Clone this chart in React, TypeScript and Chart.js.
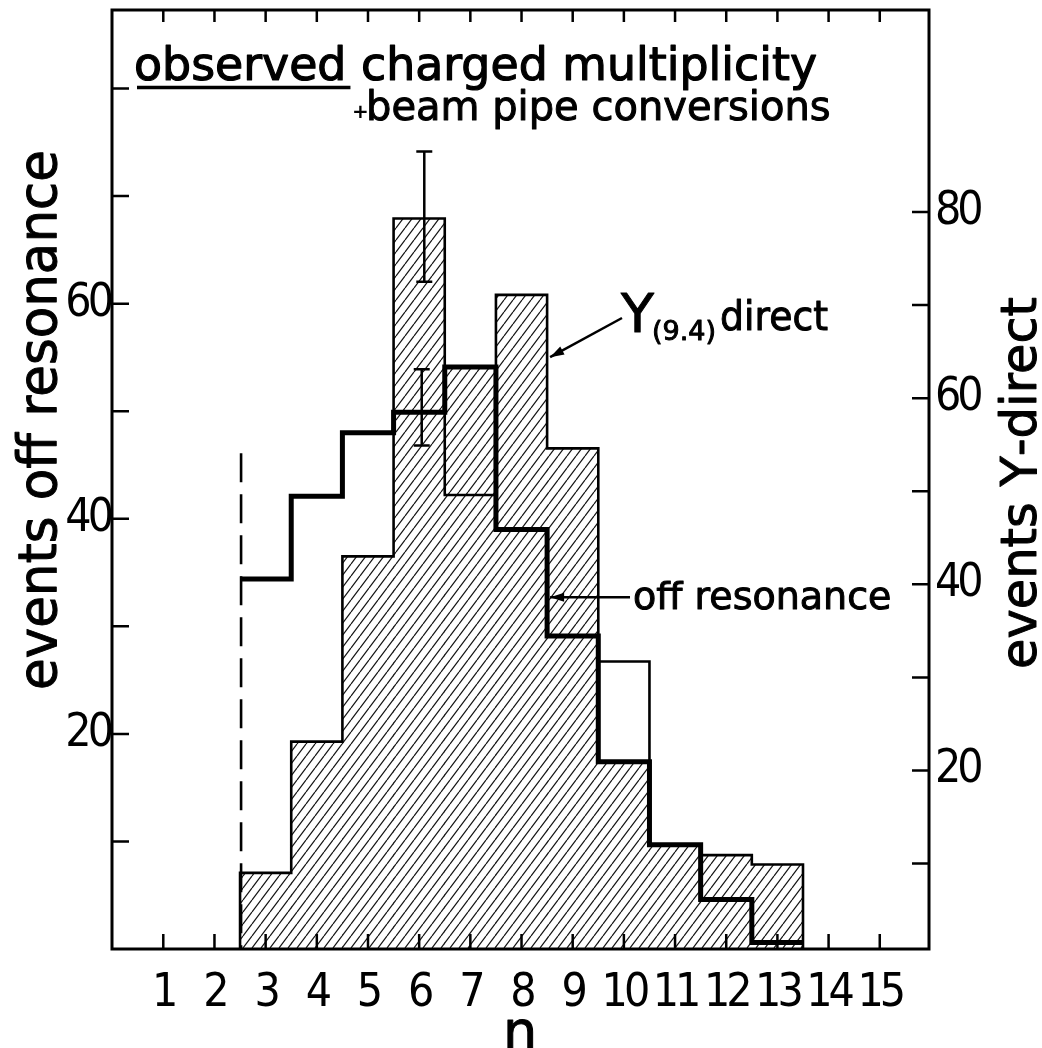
import React, { useEffect, useRef } from "react";
import { Chart, registerables } from "chart.js";

Chart.register(...registerables);

// ---------- data ----------
const binEdges = [2.5, 3.5, 4.5, 5.5, 6.5, 7.5, 8.5, 9.5, 10.5, 11.5, 12.5, 13.5];
const binCenters = [3, 4, 5, 6, 7, 8, 9, 10, 11, 12, 13];
// Υ(9.4) direct (right axis)
const upsilonDirect = [9.0, 23.1, 43.0, 79.3, 49.6, 71.1, 54.6, 31.7, 12.0, 10.9, 9.9];
// top of the hatched area per bin as drawn (right axis units)
const shadedTop = [9.0, 23.1, 43.0, 79.3, 63.4, 71.1, 54.6, 20.9, 12.0, 10.9, 9.9];
// off resonance (left axis)
const offResonance = [34.4, 42.1, 48.0, 49.9, 54.1, 39.0, 29.1, 17.4, 9.7, 4.6, 0.6];

// error bars
const errX = [6.1, 6.05];
const errLo = [72.5, 46.8];
const errHi = [86.5, 53.9];
const errAxis = ["yR", "yL"];

// dashed cut line
const cutX = [2.52, 2.52];
const cutY = [46.1, 0];

// ticks
const xTickValues = [1, 2, 3, 4, 5, 6, 7, 8, 9, 10, 11, 12, 13, 14, 15];
const xTickLabels = ["1", "2", "3", "4", "5", "6", "7", "8", "9", "10", "11", "12", "13", "14", "15"];
const leftTickMarks = [10, 20, 30, 40, 50, 60, 70, 80];
const leftTickLabels = [20, 40, 60];
const rightTickMarks = [10, 20, 30, 40, 50, 60, 70, 80];
const rightTickLabels = [20, 40, 60, 80];

const TICK_FONT = "'DejaVu Sans Condensed', 'DejaVu Sans', sans-serif";
const TEXT_FONT = "'DejaVu Sans', sans-serif";

function makeHatch(): CanvasPattern | string {
  const c = document.createElement("canvas");
  c.width = 9;
  c.height = 12;
  const g = c.getContext("2d");
  if (!g) return "#ccc";
  g.strokeStyle = "#111";
  g.lineWidth = 1.15;
  for (const dx of [-9, 0, 9]) {
    g.beginPath();
    g.moveTo(dx, 12);
    g.lineTo(dx + 9, 0);
    g.stroke();
  }
  return g.createPattern(c, "repeat") || "#ccc";
}

function arrow(ctx: CanvasRenderingContext2D, x0: number, y0: number, x1: number, y1: number) {
  ctx.beginPath();
  ctx.moveTo(x0, y0);
  ctx.lineTo(x1, y1);
  ctx.stroke();
  const ang = Math.atan2(y1 - y0, x1 - x0);
  const L = 14, W = 4.5;
  ctx.beginPath();
  ctx.moveTo(x1, y1);
  ctx.lineTo(x1 - L * Math.cos(ang) + W * Math.sin(ang), y1 - L * Math.sin(ang) - W * Math.cos(ang));
  ctx.lineTo(x1 - L * Math.cos(ang) - W * Math.sin(ang), y1 - L * Math.sin(ang) + W * Math.cos(ang));
  ctx.closePath();
  ctx.fill();
}

function boldText(ctx: CanvasRenderingContext2D, s: string, x: number, y: number, maxW?: number) {
  if (maxW !== undefined) {
    ctx.fillText(s, x, y, maxW);
    ctx.strokeText(s, x, y, maxW);
  } else {
    ctx.fillText(s, x, y);
    ctx.strokeText(s, x, y);
  }
}

const framePlugin = {
  id: "frameAndDecor",
  beforeDraw(chart: any) {
    // tighter digits for the axis tick labels (old condensed lettering)
    (chart.ctx as any).letterSpacing = "-4px";
  },
  beforeDatasetsDraw(chart: any) {
    (chart.ctx as any).letterSpacing = "0px";
  },
  afterDatasetsDraw(chart: any) {
    const ctx: CanvasRenderingContext2D = chart.ctx;
    const { left, right, top, bottom } = chart.chartArea;
    const xs = chart.scales.x, yl = chart.scales.yL, yr = chart.scales.yR;
    ctx.save();
    ctx.strokeStyle = "#000";
    ctx.fillStyle = "#000";
    // error bars
    ctx.lineWidth = 2.5;
    for (let i = 0; i < errX.length; i++) {
      const sc = chart.scales[errAxis[i]];
      const px = xs.getPixelForValue(errX[i]);
      const p1 = sc.getPixelForValue(errLo[i]);
      const p2 = sc.getPixelForValue(errHi[i]);
      ctx.beginPath();
      ctx.moveTo(px, p1); ctx.lineTo(px, p2);
      ctx.moveTo(px - 8, p1); ctx.lineTo(px + 8, p1);
      ctx.moveTo(px - 8, p2); ctx.lineTo(px + 8, p2);
      ctx.stroke();
    }
    // frame
    ctx.lineWidth = 3;
    ctx.strokeRect(left, top, right - left, bottom - top);
    // inward tick marks
    ctx.lineWidth = 2.5;
    ctx.beginPath();
    for (const v of xTickValues) {
      const px = xs.getPixelForValue(v);
      ctx.moveTo(px, bottom); ctx.lineTo(px, bottom - 15);
      ctx.moveTo(px, top); ctx.lineTo(px, top + 12);
    }
    for (const v of leftTickMarks) {
      const py = yl.getPixelForValue(v);
      ctx.moveTo(left, py); ctx.lineTo(left + 17, py);
    }
    for (const v of rightTickMarks) {
      const py = yr.getPixelForValue(v);
      ctx.moveTo(right, py); ctx.lineTo(right - 17, py);
    }
    ctx.stroke();
    ctx.restore();
  },
  afterDraw(chart: any) {
    const ctx: CanvasRenderingContext2D = chart.ctx;
    const xs = chart.scales.x, yl = chart.scales.yL, yr = chart.scales.yR;
    ctx.save();
    (ctx as any).letterSpacing = "0px";
    ctx.fillStyle = "#000";
    ctx.strokeStyle = "#000";
    ctx.textBaseline = "alphabetic";
    ctx.textAlign = "left";
    ctx.lineJoin = "round";

    // title
    ctx.lineWidth = 1.2;
    ctx.font = `46px ${TEXT_FONT}`;
    const full = "observed charged multiplicity";
    const k = Math.min(1, 683 / ctx.measureText(full).width);
    const w1 = ctx.measureText("observed").width * k;
    boldText(ctx, "observed", 134, 80, w1);
    const w2 = ctx.measureText(" charged multiplicity").width * k;
    boldText(ctx, " charged multiplicity", 134 + w1, 80, w2);
    ctx.lineWidth = 3.5;
    ctx.beginPath();
    ctx.moveTo(137, 87.5);
    ctx.lineTo(134 + w1 + 4, 87.5);
    ctx.stroke();

    ctx.lineWidth = 1;
    ctx.font = `bold 20px ${TEXT_FONT}`;
    ctx.fillText("+", 352, 118);
    ctx.font = `40px ${TEXT_FONT}`;
    boldText(ctx, "beam pipe conversions", 366, 120, 465);

    // Υ(9.4) direct label
    ctx.font = `54px ${TEXT_FONT}`;
    boldText(ctx, "Υ", 621, 332);
    ctx.font = `27px ${TEXT_FONT}`;
    boldText(ctx, "(9.4)", 652, 340, 64);
    ctx.font = `40px ${TEXT_FONT}`;
    boldText(ctx, "direct", 720, 330, 108);
    ctx.lineWidth = 2.5;
    const tipUx = xs.getPixelForValue(8.5) + 3;
    const tipUy = yr.getPixelForValue(64.4);
    arrow(ctx, 622, 318, tipUx, tipUy);

    // off resonance label
    ctx.lineWidth = 1;
    ctx.font = `38px ${TEXT_FONT}`;
    boldText(ctx, "off resonance", 633, 609, 268);
    ctx.lineWidth = 2.5;
    const tipOx = xs.getPixelForValue(8.5) + 3;
    const tipOy = yl.getPixelForValue(32.7);
    arrow(ctx, 630, tipOy, tipOx, tipOy);

    // axis titles
    ctx.lineWidth = 1;
    ctx.textAlign = "center";
    ctx.font = `54px ${TEXT_FONT}`;
    ctx.save();
    ctx.translate(56, 420);
    ctx.rotate(-Math.PI / 2);
    boldText(ctx, "events off resonance", 0, 0, 540);
    ctx.restore();

    ctx.font = `50px ${TEXT_FONT}`;
    ctx.save();
    ctx.translate(1036, 483);
    ctx.rotate(-Math.PI / 2);
    boldText(ctx, "events Υ-direct", 0, 0, 372);
    ctx.restore();

    ctx.font = `54px ${TEXT_FONT}`;
    boldText(ctx, "n", 520, 1049);
    ctx.restore();
  },
};

export default function App() {
  const ref = useRef<HTMLCanvasElement | null>(null);

  useEffect(() => {
    document.body.style.margin = "0";
    const canvas = ref.current;
    if (!canvas) return;
    const hatch = makeHatch();

    const upsPoints = [{ x: binEdges[0], y: 0 }, ...upsilonDirect.map((v, i) => ({ x: binEdges[i + 1], y: v })), { x: binEdges[binEdges.length - 1], y: 0 }];
    const offPoints = [{ x: binEdges[0], y: offResonance[0] }, ...offResonance.map((v, i) => ({ x: binEdges[i + 1], y: v }))];

    const xTickFont = { family: TICK_FONT, size: 46 };
    const yTickFont = { family: TICK_FONT, size: 46 };

    const chart = new Chart(canvas, {
      type: "bar",
      data: {
        datasets: [
          {
            type: "bar",
            label: "hatched",
            data: binCenters.map((c, i) => ({ x: c, y: shadedTop[i] })),
            yAxisID: "yR",
            backgroundColor: hatch as any,
            borderWidth: 0,
            barPercentage: 1,
            categoryPercentage: 1,
            grouped: false,
            order: 4,
          } as any,
          {
            type: "line",
            label: "Υ(9.4) direct",
            data: upsPoints,
            yAxisID: "yR",
            stepped: "after",
            borderColor: "#000",
            borderWidth: 2.6,
            pointRadius: 0,
            fill: false,
            order: 3,
          } as any,
          {
            type: "line",
            label: "cut",
            data: cutX.map((x, i) => ({ x, y: cutY[i] })),
            yAxisID: "yL",
            borderColor: "#000",
            borderWidth: 2.6,
            borderDash: [29, 12],
            pointRadius: 0,
            fill: false,
            order: 2,
          } as any,
          {
            type: "line",
            label: "off resonance",
            data: offPoints,
            yAxisID: "yL",
            stepped: "after",
            borderColor: "#000",
            borderWidth: 5,
            pointRadius: 0,
            fill: false,
            order: 1,
          } as any,
        ],
      },
      options: {
        animation: false,
        responsive: true,
        maintainAspectRatio: false,
        devicePixelRatio: 1,
        layout: { padding: { top: 10, left: 0, right: 0, bottom: 0 } },
        plugins: { legend: { display: false }, tooltip: { enabled: false } },
        scales: {
          x: {
            type: "linear",
            min: 0.53,
            max: 15.43,
            afterFit: (s: any) => { s.height = 99; s.paddingLeft = 0; s.paddingRight = 0; },
            grid: { drawOnChartArea: false, drawTicks: false },
            border: { display: false },
            ticks: {
              stepSize: 1,
              includeBounds: false,
              autoSkip: false,
              maxRotation: 0,
              padding: 17,
              color: "#000",
              font: xTickFont,
              callback: (v: any) => {
                const i = xTickValues.indexOf(Number(v));
                return i >= 0 ? xTickLabels[i] : "";
              },
            },
          },
          yL: {
            type: "linear",
            position: "left",
            min: 0,
            max: 87.3,
            afterFit: (s: any) => { s.width = 112; s.paddingTop = 0; s.paddingBottom = 0; },
            grid: { drawOnChartArea: false, drawTicks: false },
            border: { display: false },
            ticks: {
              stepSize: 10,
              includeBounds: false,
              padding: 2,
              color: "#000",
              font: yTickFont,
              callback: (v: any) => (leftTickLabels.includes(Number(v)) ? String(v) : ""),
            },
          },
          yR: {
            type: "linear",
            position: "right",
            min: 0.82,
            max: 101.7,
            afterFit: (s: any) => { s.width = 113; s.paddingTop = 0; s.paddingBottom = 0; },
            grid: { drawOnChartArea: false, drawTicks: false },
            border: { display: false },
            ticks: {
              stepSize: 10,
              includeBounds: false,
              padding: 6,
              color: "#000",
              font: yTickFont,
              callback: (v: any) => (rightTickLabels.includes(Number(v)) ? String(v) : ""),
            },
          },
        },
      } as any,
      plugins: [framePlugin],
    });

    return () => chart.destroy();
  }, []);

  return (
    <div style={{ width: 1042, height: 1048, position: "relative", background: "#fff" }}>
      <canvas ref={ref} />
    </div>
  );
}
